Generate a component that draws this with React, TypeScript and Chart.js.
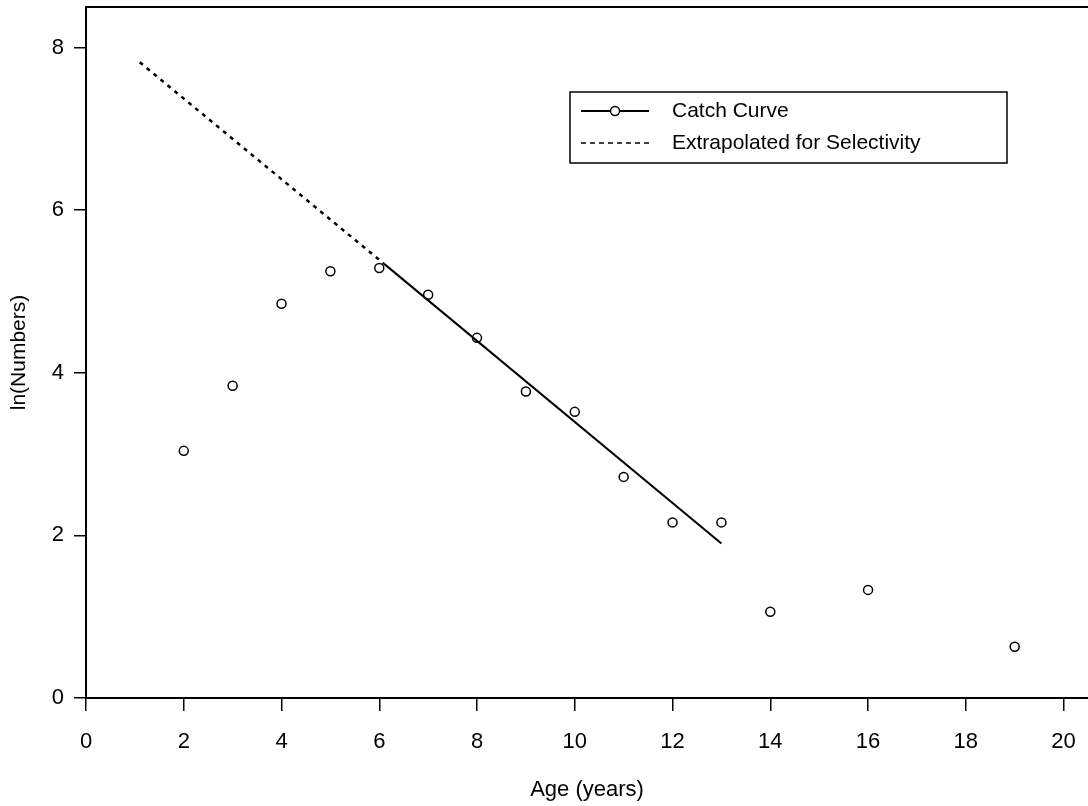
import React, { useEffect, useRef } from 'react';
import { Chart, registerables } from 'chart.js';

Chart.register(...registerables);

// Observed catch data
const ages = [2, 3, 4, 5, 6, 7, 8, 9, 10, 11, 12, 13, 14, 16, 19];
const lnNumbers = [3.04, 3.84, 4.85, 5.25, 5.29, 4.96, 4.43, 3.77, 3.52, 2.72, 2.16, 2.16, 1.06, 1.33, 0.63];

// Fitted catch curve (solid) and extrapolated part (dashed)
const catchCurveX = [6.1, 13];
const catchCurveY = [5.34, 1.9];
const extrapX = [1.1, 6.1];
const extrapY = [7.82, 5.34];

const legendLabels = ['Catch Curve', 'Extrapolated for Selectivity'];
const xTitle = 'Age (years)';
const yTitle = 'ln(Numbers)';
const xMin = 0;
const xMax = 20.5;
const yMin = 0;
const yMax = 8.5;
const tickStep = 2;

const FONT = '"Liberation Sans", Arial, Helvetica, sans-serif';

const toPts = (xs: number[], ys: number[]) => xs.map((x, i) => ({ x, y: ys[i] }));

const framePlugin = {
  id: 'frameAndLegend',
  afterDraw(chart: any) {
    const { ctx, chartArea } = chart;
    ctx.save();
    // top border of the box
    ctx.strokeStyle = '#000';
    ctx.lineWidth = 2;
    ctx.beginPath();
    ctx.moveTo(chartArea.left, chartArea.top);
    ctx.lineTo(chartArea.right, chartArea.top);
    ctx.stroke();

    // legend box
    const bx = chartArea.left + 484;
    const by = chartArea.top + 85;
    const bw = 437;
    const bh = 71;
    ctx.lineWidth = 1.5;
    ctx.strokeRect(bx, by, bw, bh);

    const y1 = by + 19;
    const y2 = by + 51;
    const lx0 = bx + 11;
    const lx1 = bx + 79;
    ctx.lineWidth = 2;
    ctx.setLineDash([]);
    ctx.beginPath();
    ctx.moveTo(lx0, y1);
    ctx.lineTo(lx1, y1);
    ctx.stroke();
    ctx.fillStyle = '#fff';
    ctx.lineWidth = 1.5;
    ctx.beginPath();
    ctx.arc((lx0 + lx1) / 2, y1, 4.5, 0, Math.PI * 2);
    ctx.fill();
    ctx.stroke();

    ctx.lineWidth = 1.5;
    ctx.setLineDash([5, 4]);
    ctx.beginPath();
    ctx.moveTo(lx0, y2);
    ctx.lineTo(lx1, y2);
    ctx.stroke();
    ctx.setLineDash([]);

    ctx.fillStyle = '#000';
    ctx.font = `21px ${FONT}`;
    ctx.textBaseline = 'middle';
    ctx.textAlign = 'left';
    ctx.fillText(legendLabels[0], bx + 102, y1);
    ctx.fillText(legendLabels[1], bx + 102, y2);
    ctx.restore();
  },
};

export default function App() {
  const ref = useRef<HTMLCanvasElement | null>(null);

  useEffect(() => {
    if (!ref.current) return;
    const chart = new Chart(ref.current, {
      type: 'scatter',
      data: {
        datasets: [
          {
            label: legendLabels[1],
            type: 'line',
            data: toPts(extrapX, extrapY),
            borderColor: '#000',
            borderWidth: 2.5,
            borderDash: [4, 5],
            pointRadius: 0,
            showLine: true,
            fill: false,
          } as any,
          {
            label: legendLabels[0],
            type: 'line',
            data: toPts(catchCurveX, catchCurveY),
            borderColor: '#000',
            borderWidth: 2,
            pointRadius: 0,
            showLine: true,
            fill: false,
          } as any,
          {
            label: 'Observed',
            data: toPts(ages, lnNumbers),
            pointStyle: 'circle',
            pointRadius: 4.5,
            borderWidth: 1.5,
            borderColor: '#000',
            backgroundColor: 'rgba(0,0,0,0)',
            showLine: false,
          },
        ],
      },
      options: {
        responsive: false,
        animation: false,
        layout: { autoPadding: false, padding: { top: 7, right: 0, left: 0, bottom: 0 } },
        plugins: {
          legend: { display: false },
          tooltip: { enabled: false },
        },
        scales: {
          x: {
            type: 'linear',
            min: xMin,
            max: xMax,
            afterFit: (s: any) => {
              s.height = 108;
              s.paddingLeft = 0;
              s.paddingRight = 0;
            },
            border: { display: true, color: '#000', width: 2 },
            grid: {
              drawOnChartArea: false,
              drawTicks: true,
              tickLength: 13,
              color: '#000',
              lineWidth: 1.5,
            },
            ticks: {
              stepSize: tickStep,
              includeBounds: false,
              color: '#000',
              padding: 18,
              maxRotation: 0,
              autoSkip: false,
              font: { family: FONT, size: 22 },
            },
            title: {
              display: true,
              text: xTitle,
              color: '#000',
              font: { family: FONT, size: 22 },
              padding: { top: 0, bottom: 3 },
            },
          },
          y: {
            type: 'linear',
            min: yMin,
            max: yMax,
            afterFit: (s: any) => {
              s.width = 86;
              s.paddingTop = 0;
              s.paddingBottom = 0;
            },
            border: { display: true, color: '#000', width: 2 },
            grid: {
              drawOnChartArea: false,
              drawTicks: true,
              tickLength: 12,
              color: '#000',
              lineWidth: 1.5,
            },
            ticks: {
              stepSize: tickStep,
              includeBounds: false,
              color: '#000',
              padding: 10,
              font: { family: FONT, size: 22 },
            },
            title: {
              display: true,
              text: yTitle,
              color: '#000',
              font: { family: FONT, size: 21 },
              padding: { top: 7, bottom: 0 },
            },
          },
        },
      },
      plugins: [framePlugin],
    });
    return () => chart.destroy();
  }, []);

  return (
    <div style={{ position: 'absolute', left: 0, top: 0, width: 1088, height: 806, background: '#fff' }}>
      <canvas ref={ref} width={1088} height={806} style={{ display: 'block' }} />
    </div>
  );
}
